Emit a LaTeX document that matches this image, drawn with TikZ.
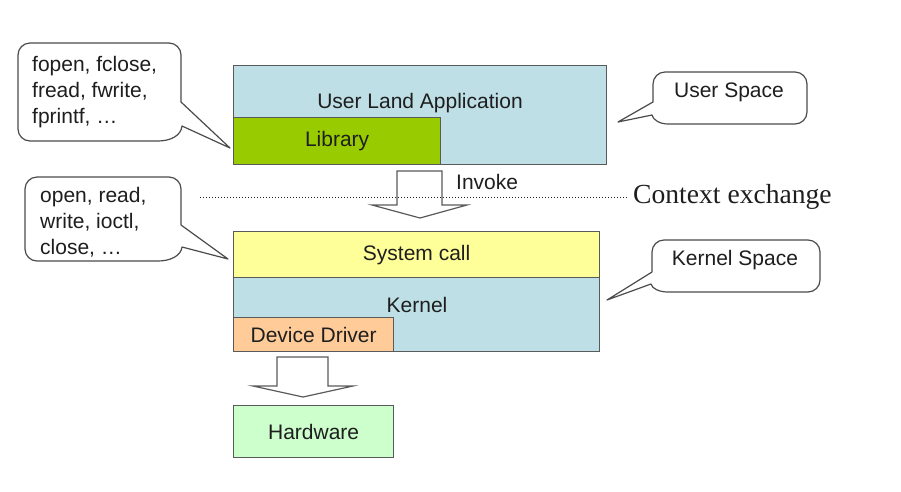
\documentclass[tikz,border=0pt]{standalone}
\usepackage{fontspec}
\setmainfont{Liberation Sans}
\newfontfamily\serifface{Liberation Serif}
\definecolor{bluebg}{HTML}{BEDFE5}
\definecolor{libgreen}{HTML}{99CC00}
\definecolor{sysyellow}{HTML}{FFFF99}
\definecolor{peach}{HTML}{FFCC99}
\definecolor{hwgreen}{HTML}{CCFFCC}
\definecolor{edge}{HTML}{5A5A5A}
\definecolor{ink}{HTML}{1E1E1E}
\begin{document}
\begin{tikzpicture}[x=1pt,y=-1pt,
  txt/.style={text=ink,font=\fontsize{21}{26}\selectfont,inner sep=0pt},
  layer/.style={draw=edge,line width=1.3pt,anchor=north west,inner sep=0pt,text=ink,font=\fontsize{21}{26}\selectfont},
  callout/.style={draw=ink!80,line width=1.2pt,fill=white,line join=round},
  blockarrow/.style={draw=edge,line width=1.2pt,fill=white,line join=miter}]
\useasboundingbox (0,0) rectangle (901,491);
% user space
\node[layer,fill=bluebg,minimum width=373pt,minimum height=99pt] (ula) at (233,65) {};
\node[txt] (ulat) at (420,103) {User Land Application};
\node[layer,fill=libgreen,minimum width=207pt,minimum height=47pt] (lib) at (233,117) {Library};
% kernel space
\node[layer,fill=sysyellow,minimum width=366pt,minimum height=46pt] (sys) at (233,231) {System call};
\node[layer,fill=bluebg,minimum width=366pt,minimum height=74pt] (kern) at (233,277) {};
\node[txt] (kernt) at (417,305) {Kernel};
\node[layer,fill=peach,minimum width=160pt,minimum height=34pt] (dd) at (233,317) {Device Driver};
\node[layer,fill=hwgreen,minimum width=160pt,minimum height=52pt] (hw) at (233,405) {Hardware};
% invoke arrow
\draw[blockarrow] (397,171) -- (442,171) -- (442,205) -- (467,205) -- (420,218) -- (372,205) -- (397,205) -- cycle;
\node[txt,anchor=west] (inv) at (456,182) {Invoke};
% hardware arrow
\draw[blockarrow] (277,357) -- (328,357) -- (328,386) -- (353,386) -- (303,397) -- (253,386) -- (277,386) -- cycle;
% context exchange
\coordinate (dl) at (200,197);
\node[anchor=base west,inner sep=0pt,text=ink,font=\serifface\fontsize{27.6}{30}\selectfont] (ctx) at (633,203) {Context exchange};
\draw[ink,line width=1pt,dotted] (dl) -- ([xshift=-5pt]ctx.west |- dl);
% callout 1
\draw[callout] (30,43) -- (169,43) .. controls (175.6,43) and (181,48.4) .. (181,55) -- (181,102) -- (230,148) -- (182,126) .. controls (181,136) and (170,141) .. (158,141) -- (30,141) .. controls (23.4,141) and (18,135.6) .. (18,129) -- (18,55) .. controls (18,48.4) and (23.4,43) .. (30,43) -- cycle;
\node[txt,anchor=west,align=left] (c1) at (32,92) {fopen, fclose,\\fread, fwrite,\\fprintf, \dots};
% callout 2
\draw[callout] (37,177) -- (169,177) .. controls (175.6,177) and (181,182.4) .. (181,189) -- (181,225) -- (228,259) -- (182,247) .. controls (181,256) and (170,261) .. (158,261) -- (37,261) .. controls (30.4,261) and (25,255.6) .. (25,249) -- (25,189) .. controls (25,182.4) and (30.4,177) .. (37,177) -- cycle;
\node[txt,anchor=west,align=left] (c2) at (40,222) {open, read,\\write, ioctl,\\close, \dots};
% user space callout
\draw[callout] (665,72) -- (795,72) .. controls (801.6,72) and (807,77.4) .. (807,84) -- (807,112) .. controls (807,118.6) and (801.6,124) .. (795,124) -- (668,124) .. controls (660,124) and (653,120) .. (652,115) -- (618,122) -- (653,102) -- (653,84) .. controls (653,77.4) and (658.4,72) .. (665,72) -- cycle;
\node[txt] (us) at (729,92) {User Space};
% kernel space callout
\draw[callout] (664,240) -- (808,240) .. controls (814.6,240) and (820,245.4) .. (820,252) -- (820,280) .. controls (820,286.6) and (814.6,292) .. (808,292) -- (668,292) .. controls (660,292) and (652,289) .. (651,284) -- (607,300) -- (652,272) -- (652,252) .. controls (652,245.4) and (657.4,240) .. (664,240) -- cycle;
\node[txt] (ks) at (735,260) {Kernel Space};
\end{tikzpicture}
\end{document}
